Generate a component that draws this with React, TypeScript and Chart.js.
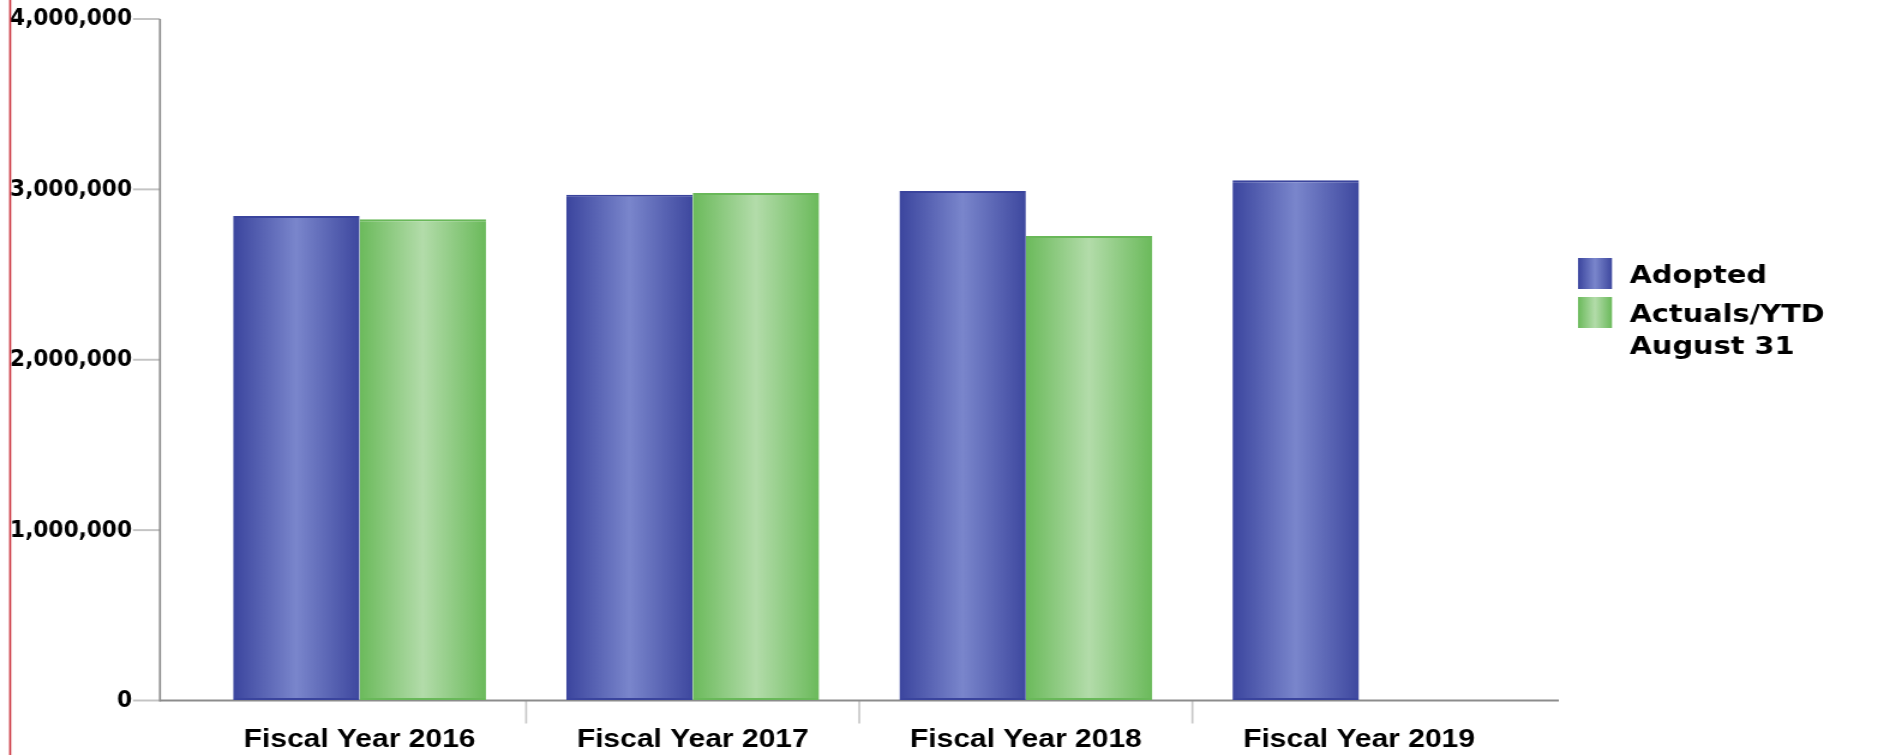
import React, { useEffect, useRef } from 'react';
import { Chart, registerables } from 'chart.js';

Chart.register(...registerables);

// ---- data ----
const categories = ['Fiscal Year 2016', 'Fiscal Year 2017', 'Fiscal Year 2018', 'Fiscal Year 2019'];
const adopted = [2844000, 2969000, 2990000, 3053000];
const actuals = [2824000, 2979000, 2726000, null];
const seriesNames = ['Adopted', 'Actuals/YTD\nAugust 31'];
const yTicks = [0, 1000000, 2000000, 3000000, 4000000];

// ---- layout / style ----
const W = 1565;
const H = 755;
const STRETCH = 1878 / W;
const CAT_PCT = 0.759;

const blueStops: [number, string][] = [[0, '#3b459e'], [0.5, '#7a86cc'], [1, '#3e489f']];
const greenStops: [number, string][] = [[0, '#6bba5b'], [0.5, '#b3dcaa'], [1, '#6bba5b']];

function barGradient(stops: [number, string][], dsIndex: number) {
  return (c: any) => {
    const chart = c.chart;
    const xs = chart.scales && chart.scales.x;
    if (!xs || c.dataIndex === undefined || c.type !== 'data') return stops[1][1];
    const center = xs.getPixelForValue(c.dataIndex);
    const catW = xs.width / categories.length;
    const bw = (catW * CAT_PCT) / 2;
    const left = dsIndex === 0 ? center - bw : center;
    if (!isFinite(left) || !isFinite(bw) || bw <= 0) return stops[1][1];
    const g = chart.ctx.createLinearGradient(left, 0, left + bw, 0);
    stops.forEach(([o, col]) => g.addColorStop(o, col));
    return g;
  };
}

const fmt = (v: number) => v.toLocaleString('en-US');

const decorPlugin = {
  id: 'decor',
  beforeDatasetsDraw(chart: any) {
    const ctx = chart.ctx;
    const ys = chart.scales.y;
    const xs = chart.scales.x;
    const axisX = 133.3;
    const yTop = ys.getPixelForValue(yTicks[yTicks.length - 1]);
    const yBot = ys.getPixelForValue(0);
    ctx.save();
    ctx.strokeStyle = '#c4c4c4';
    ctx.lineWidth = 2;
    yTicks.forEach((v) => {
      const y = ys.getPixelForValue(v);
      ctx.beginPath();
      ctx.moveTo(axisX - 22.5, y);
      ctx.lineTo(axisX, y);
      ctx.stroke();
    });
    ctx.strokeStyle = '#c8c8c8';
    ctx.lineWidth = 1.7;
    const catW = xs.width / categories.length;
    for (let i = 1; i < categories.length; i++) {
      const x = xs.left + i * catW;
      ctx.beginPath();
      ctx.moveTo(x, yBot);
      ctx.lineTo(x, yBot + 23);
      ctx.stroke();
    }
    ctx.strokeStyle = '#8c8c8c';
    ctx.lineWidth = 2;
    ctx.beginPath();
    ctx.moveTo(axisX, yBot);
    ctx.lineTo(1299, yBot);
    ctx.stroke();
    ctx.lineWidth = 1.7;
    ctx.beginPath();
    ctx.moveTo(axisX, yTop);
    ctx.lineTo(axisX, yBot + 1);
    ctx.stroke();
    // y tick labels, fitted to the reference label width
    ctx.fillStyle = '#000';
    ctx.font = 'bold 23px "DejaVu Sans", Verdana, sans-serif';
    ctx.textAlign = 'right';
    ctx.textBaseline = 'middle';
    const targetW = 122 / STRETCH;
    const natW = ctx.measureText(fmt(yTicks[yTicks.length - 1])).width || targetW;
    const sx = targetW / natW;
    yTicks.forEach((v) => {
      const y = ys.getPixelForValue(v);
      ctx.save();
      ctx.translate(110, y + 0.5);
      ctx.scale(sx, 1);
      ctx.fillText(fmt(v), 0, 0);
      ctx.restore();
    });
    ctx.restore();
  },
  afterDraw(chart: any) {
    const ctx = chart.ctx;
    ctx.save();
    ctx.fillStyle = '#cc3a44';
    ctx.fillRect(7.6, 0, 1.7, H);
    const stopsList = [blueStops, greenStops];
    const boxTops = [258, 297];
    const textBase = [283, 322];
    ctx.font = 'bold 24px "DejaVu Sans"';
    ctx.textBaseline = 'alphabetic';
    ctx.textAlign = 'left';
    seriesNames.forEach((name, i) => {
      const bx = 1315;
      const bw = 28.3;
      const g = ctx.createLinearGradient(bx, 0, bx + bw, 0);
      stopsList[i].forEach(([o, col]) => g.addColorStop(o, col));
      ctx.fillStyle = g;
      ctx.fillRect(bx, boxTops[i], bw, 31);
      ctx.fillStyle = '#000';
      name.split('\n').forEach((line, j) => {
        ctx.fillText(line, 1358, textBase[i] + j * 32);
      });
    });
    ctx.restore();
  },
};

const hiddenGrid = {
  display: true,
  drawOnChartArea: false,
  drawTicks: true,
  color: 'rgba(0,0,0,0)',
};

export default function App() {
  const ref = useRef<HTMLCanvasElement>(null);
  useEffect(() => {
    document.documentElement.style.overflow = 'hidden';
    document.body.style.margin = '0';
    document.body.style.overflow = 'hidden';
    const chart = new Chart(ref.current as HTMLCanvasElement, {
      type: 'bar',
      data: {
        labels: categories,
        datasets: [
          {
            label: 'Adopted',
            data: adopted,
            backgroundColor: barGradient(blueStops, 0) as any,
            borderColor: '#3a449d',
            borderWidth: { top: 2, bottom: 2, left: 0, right: 0 } as any,
            borderSkipped: false as any,
          },
          {
            label: 'Actuals/YTD August 31',
            data: actuals as any,
            backgroundColor: barGradient(greenStops, 1) as any,
            borderColor: '#69b859',
            borderWidth: { top: 2, bottom: 2, left: 0, right: 0 } as any,
            borderSkipped: false as any,
          },
        ],
      },
      options: {
        responsive: false,
        animation: false,
        devicePixelRatio: 1,
        layout: { autoPadding: false, padding: { top: 19, right: W - 1271.3, left: 0, bottom: 0 } },
        datasets: { bar: { categoryPercentage: CAT_PCT, barPercentage: 1 } },
        plugins: {
          legend: { display: false },
          tooltip: { enabled: false },
          title: { display: false },
        },
        scales: {
          x: {
            type: 'category',
            offset: true,
            grid: { ...hiddenGrid, offset: true, tickLength: 25 } as any,
            border: { display: false },
            ticks: {
              autoSkip: false,
              maxRotation: 0,
              minRotation: 0,
              padding: 0,
              color: '#000',
              font: { family: '"Liberation Sans", Arial, sans-serif', size: 25, weight: 'bold' },
            },
            afterFit: (s: any) => {
              s.height = H - 700.5;
            },
          },
          y: {
            type: 'linear',
            min: 0,
            max: 4000000,
            grid: { ...hiddenGrid, drawTicks: false } as any,
            border: { display: false },
            afterBuildTicks: (s: any) => {
              s.ticks = yTicks.map((v) => ({ value: v }));
            },
            ticks: { display: false },
            afterFit: (s: any) => {
              s.width = 160.8;
            },
          },
        },
      },
      plugins: [decorPlugin],
    });
    return () => chart.destroy();
  }, []);
  return (
    <div
      style={{
        position: 'absolute',
        left: 0,
        top: 0,
        width: W,
        height: H,
        transform: `scaleX(${STRETCH})`,
        transformOrigin: '0 0',
      }}
    >
      <canvas ref={ref} width={W} height={H} style={{ display: 'block' }} />
    </div>
  );
}
